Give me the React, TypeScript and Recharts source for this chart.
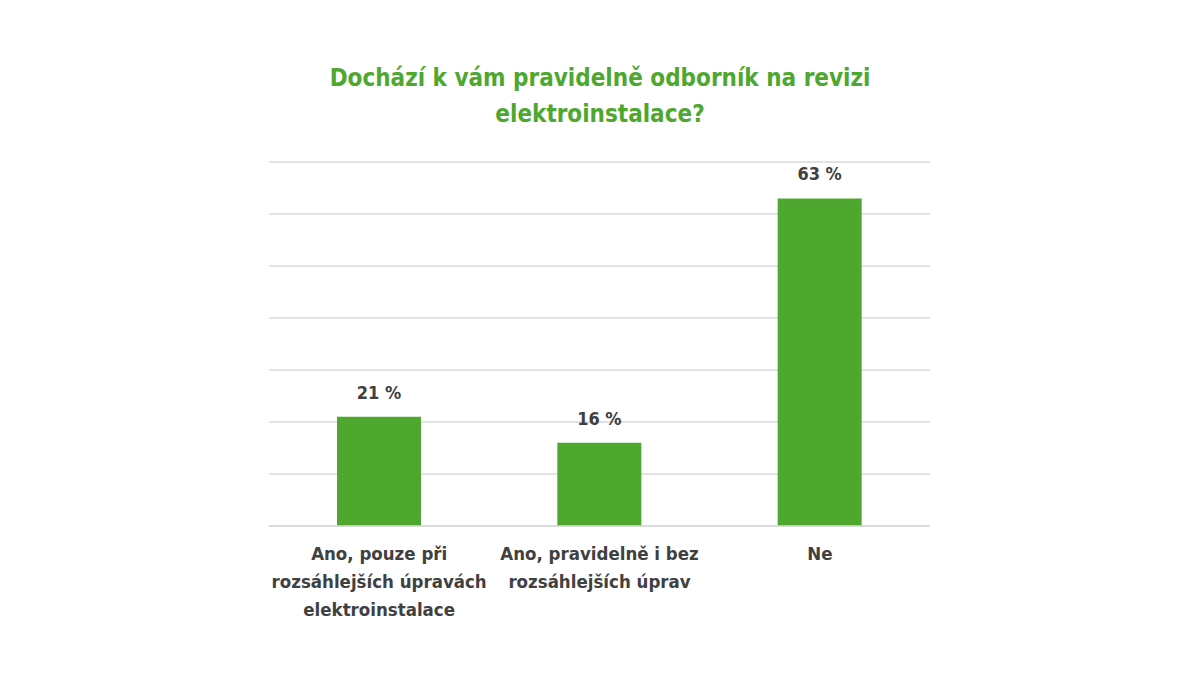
import { BarChart, Bar, XAxis, YAxis, CartesianGrid, LabelList } from "recharts";

const title = ["Dochází k vám pravidelně odborník na revizi", "elektroinstalace?"];

const categories = [
  ["Ano, pouze při", "rozsáhlejších úpravách", "elektroinstalace"],
  ["Ano, pravidelně i bez", "rozsáhlejších úprav"],
  ["Ne"],
];
const values = [21, 16, 63];
const yTicks = [0, 10, 20, 30, 40, 50, 60, 70];

const data = categories.map((lines, i) => ({ name: lines.join(" "), lines, value: values[i] }));

const FONT = "'Liberation Sans Narrow', 'DejaVu Sans Condensed', 'Roboto', sans-serif";
const GREEN = "#4ea72e";
const TEXT = "#404040";

// popisky kategorií na více řádků
const CategoryTick = (props: any) => {
  const { x, y, payload, index } = props;
  const lines: string[] = data[index]?.lines ?? [payload.value];
  return (
    <text x={x} y={y} textAnchor="middle" fill={TEXT} fontFamily={FONT} fontWeight="bold" fontSize={18.5}>
      {lines.map((l, i) => (
        <tspan key={i} x={x} dy={i === 0 ? 26 : 28}>
          {l}
        </tspan>
      ))}
    </text>
  );
};

export default function App() {
  return (
    <div style={{ position: "relative", width: 1200, height: 675, background: "#fff" }}>
      <style>{`body{margin:0}`}</style>
      <div
        style={{
          position: "absolute",
          top: 60,
          left: 0,
          width: 1200,
          textAlign: "center",
          color: GREEN,
          fontFamily: FONT,
          fontWeight: "bold",
          fontSize: 24,
          lineHeight: "36px",
        }}
      >
        {title.map((t, i) => (
          <div key={i}>{t}</div>
        ))}
      </div>
      <BarChart
        width={1200}
        height={675}
        data={data}
        margin={{ top: 162, right: 270, bottom: 0, left: 269 }}
        style={{ position: "absolute", top: 0, left: 0 }}
      >
        <CartesianGrid vertical={false} stroke="#d9d9d9" strokeWidth={1.5} />
        <XAxis
          dataKey="name"
          axisLine={{ stroke: "#d9d9d9", strokeWidth: 1.5 }}
          tickLine={false}
          interval={0}
          tick={<CategoryTick />}
          height={149}
        />
        <YAxis hide width={0} domain={[0, 70]} ticks={yTicks} />
        <Bar dataKey="value" fill={GREEN} barSize={84} isAnimationActive={false}>
          <LabelList
            dataKey="value"
            position="top"
            offset={18}
            formatter={(v: any) => `${v} %`}
            fill={TEXT}
            fontFamily={FONT}
            fontWeight="bold"
            fontSize={18}
          />
        </Bar>
      </BarChart>
    </div>
  );
}
